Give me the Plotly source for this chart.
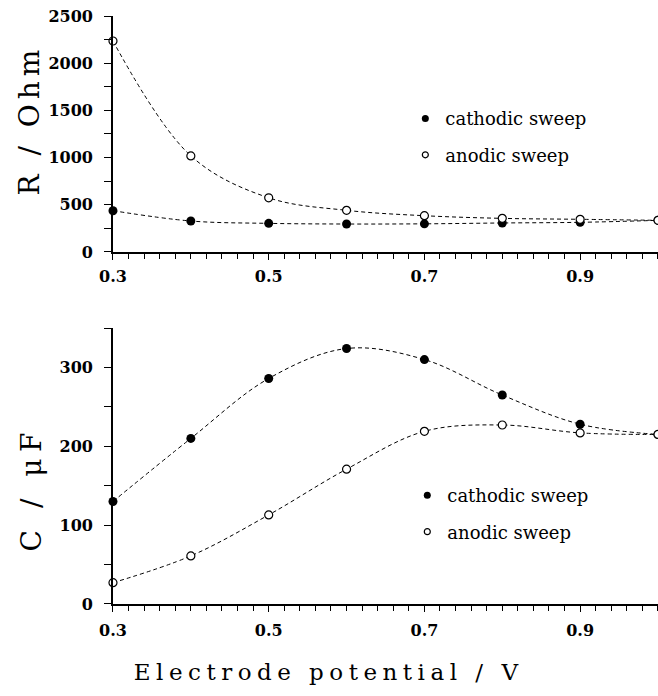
import plotly.graph_objects as go

# Electrode potential (V) at which each impedance point was taken
potential = [0.3, 0.4, 0.5, 0.6, 0.7, 0.8, 0.9, 1.0]

# Resistance R (Ohm)
r_cathodic = [437, 328, 303, 296, 298, 307, 314, 335]
r_anodic = [2235, 1018, 574, 441, 384, 356, 346, 335]

# Capacitance C (uF)
c_cathodic = [130, 210, 286, 324, 310, 265, 228, 215]
c_anodic = [27, 61, 113, 171, 219, 227, 217, 215]

x_ticks = [0.3, 0.5, 0.7, 0.9]
r_ticks = [0, 500, 1000, 1500, 2000, 2500]
c_ticks = [0, 100, 200, 300]

series_names = ["cathodic sweep", "anodic sweep"]

SERIF = "DejaVu Serif"
BLACK = "black"

filled = dict(symbol="circle", size=9, color=BLACK, line=dict(width=0))
hollow = dict(symbol="circle", size=8, color="white", line=dict(width=1.2, color=BLACK))
dashed = dict(color=BLACK, width=1, dash="4px,3px", shape="spline", smoothing=1.0)

fig = go.Figure()

# Upper panel: resistance
fig.add_trace(go.Scatter(x=potential, y=r_cathodic, mode="lines+markers",
                         line=dashed, marker=filled, showlegend=False,
                         xaxis="x", yaxis="y", cliponaxis=False))
fig.add_trace(go.Scatter(x=potential, y=r_anodic, mode="lines+markers",
                         line=dashed, marker=hollow, showlegend=False,
                         xaxis="x", yaxis="y", cliponaxis=False))

# Lower panel: capacitance
fig.add_trace(go.Scatter(x=potential, y=c_cathodic, mode="lines+markers",
                         line=dashed, marker=filled, showlegend=False,
                         xaxis="x2", yaxis="y2", cliponaxis=False))
fig.add_trace(go.Scatter(x=potential, y=c_anodic, mode="lines+markers",
                         line=dashed, marker=hollow, showlegend=False,
                         xaxis="x2", yaxis="y2", cliponaxis=False))

# Marker-only legend entries for each panel
leg_filled = dict(symbol="circle", size=7, color=BLACK, line=dict(width=0))
leg_hollow = dict(symbol="circle", size=6, color="white", line=dict(width=1.2, color=BLACK))
for leg, xa, ya in (("legend", "x", "y"), ("legend2", "x2", "y2")):
    for name, mk in zip(series_names, (leg_filled, leg_hollow)):
        fig.add_trace(go.Scatter(x=[None], y=[None], mode="markers", marker=mk,
                                 name=name, legend=leg, legendgroup=leg + name,
                                 xaxis=xa, yaxis=ya))

tickfont = dict(family=SERIF, size=16, color=BLACK, weight="bold")

def x_axis(anchor, standoff):
    return dict(domain=[0.1717, 1.0], anchor=anchor, range=[0.3, 1.0],
                tickmode="array", tickvals=x_ticks, ticktext=[f"{v:.1f}" for v in x_ticks],
                ticks="outside", ticklen=6, tickwidth=1.3, tickcolor=BLACK,
                minor=dict(tick0=0.3, dtick=0.02, ticks="outside", ticklen=5,
                           tickwidth=1, tickcolor=BLACK),
                showline=True, linecolor=BLACK, linewidth=1.6,
                showgrid=False, zeroline=False, tickfont=tickfont,
                ticklabelstandoff=standoff, automargin=False)

def y_axis(anchor, domain, rng, vals, minor_step):
    return dict(domain=domain, anchor=anchor, range=rng,
                tickmode="array", tickvals=vals,
                ticks="outside", ticklen=7, tickwidth=1.3, tickcolor=BLACK,
                minor=dict(tick0=0, dtick=minor_step, ticks="outside", ticklen=7,
                           tickwidth=1, tickcolor=BLACK),
                showline=True, linecolor=BLACK, linewidth=1.6,
                showgrid=False, zeroline=False, tickfont=tickfont,
                ticklabelstandoff=8, automargin=False)

legend_style = dict(xanchor="left", yanchor="top", bgcolor="rgba(0,0,0,0)",
                    borderwidth=0, tracegroupgap=10, traceorder="grouped",
                    font=dict(family=SERIF, size=18, color=BLACK))

fig.update_layout(
    template="none",
    width=658, height=696,
    margin=dict(l=0, r=0, t=0, b=0, pad=0),
    paper_bgcolor="white", plot_bgcolor="white",
    showlegend=True,
    xaxis=x_axis("y", 3),
    yaxis=y_axis("x", [0.638, 0.977], [0, 2500], r_ticks, 250),
    xaxis2=x_axis("y2", 5),
    yaxis2=y_axis("x2", [0.1322, 0.5287], [0, 350], c_ticks, 50),
    legend=dict(x=0.616, y=0.856, **legend_style),
    legend2=dict(x=0.619, y=0.3146, **legend_style),
    annotations=[
        dict(text="R / Ohm", xref="paper", yref="paper", x=0.0456, y=0.8276,
             textangle=-90, showarrow=False, xanchor="center", yanchor="middle",
             font=dict(family=SERIF, size=28, color=BLACK)),
        dict(text="C / \u03bcF", xref="paper", yref="paper", x=0.0486, y=0.2975,
             textangle=-90, showarrow=False, xanchor="center", yanchor="middle",
             font=dict(family=SERIF, size=28, color=BLACK)),
        dict(text="Electrode potential / V", xref="paper", yref="paper",
             x=0.5005, y=0.0345, showarrow=False, xanchor="center", yanchor="middle",
             font=dict(family=SERIF, size=23, color=BLACK)),
    ],
)

# Page without body margin; axis titles typeset with wide letter spacing
page_js = """
document.body.style.margin = '0';
var gd = document.getElementById('{plot_id}');
function spread() {
  gd.querySelectorAll('.annotation-text').forEach(function (t) {
    var txt = t.textContent;
    t.style.letterSpacing = txt.indexOf('Electrode') === 0 ? '5.5px'
                          : (txt.indexOf('C') === 0 ? '6.5px' : '5px');
  });
}
spread();
gd.on('plotly_afterplot', spread);
"""

fig.write_html("out.html", post_script=page_js)
